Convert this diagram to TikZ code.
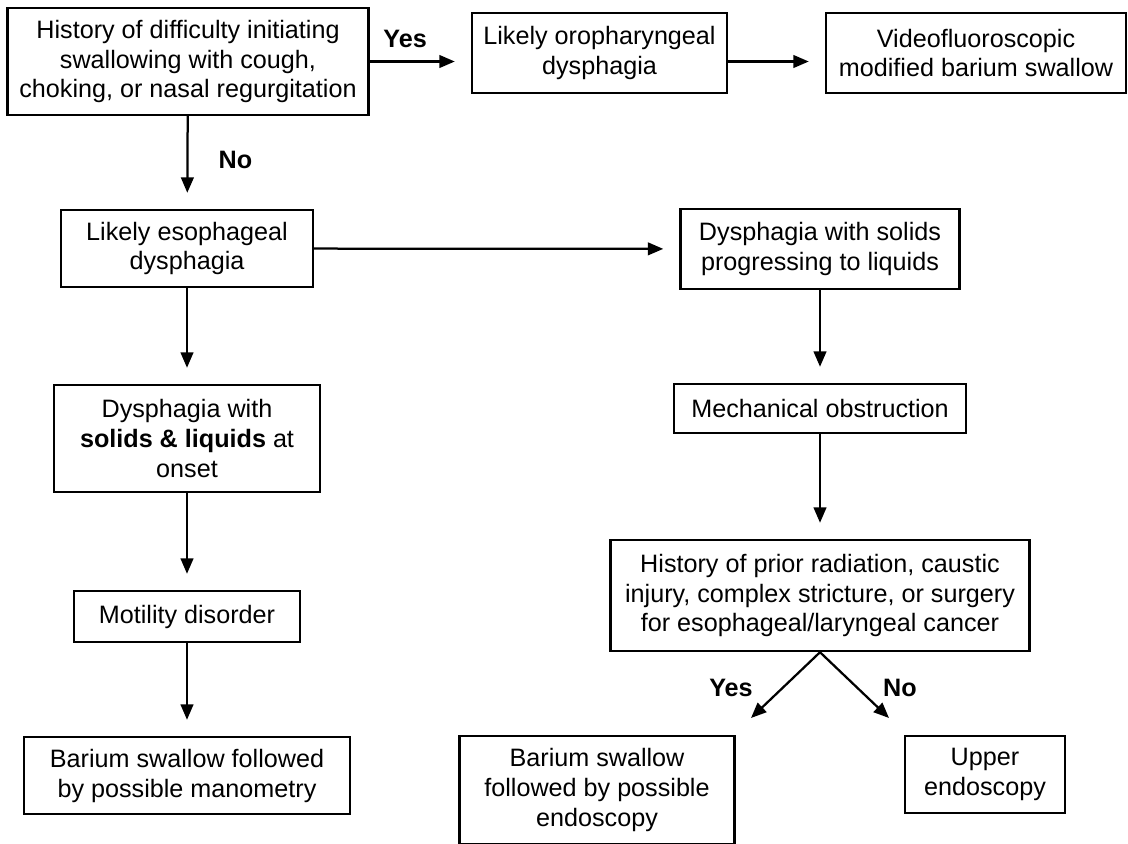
\documentclass[tikz,border=0pt]{standalone}
\usepackage{fontspec}
\setmainfont{Liberation Sans}
\usetikzlibrary{shapes,arrows.meta}

\begin{document}
\begin{tikzpicture}[x=0.025cm, y=-0.025cm]
		\tikzstyle {flowbox} = [draw, line width=1.7pt, align=center, inner sep=0pt, font=\fontsize{17.9}{21.3}\selectfont]
		\tikzstyle {flow} = [-{Triangle[length=11pt,width=9pt]}, line width=1.6pt, shorten >=0.4cm]
		\tikzstyle {answer} = [font=\fontsize{17.9}{21.3}\selectfont\bfseries]

		\useasboundingbox (0,0) rectangle (1128,843);
		\clip (0,0) rectangle (1128,843);

		% top row
		\node[flowbox, minimum width=9.025cm, minimum height=2.675cm] (hist) at (188,61.5) {History of difficulty initiating\\swallowing with cough,\\choking, or nasal regurgitation};
		\node[flowbox, minimum width=6.375cm, minimum height=2cm] (oro) at (599.5,53) {Likely oropharyngeal\\dysphagia};
		\node[flowbox, minimum width=7.5cm, minimum height=2cm] (vfss) at (976,53) {Videofluoroscopic\\modified barium swallow};

		% left column
		\node[flowbox, minimum width=6.3cm, minimum height=1.925cm] (eso) at (187,248.5) {Likely esophageal\\dysphagia};
		\node[flowbox, minimum width=6.65cm, minimum height=2.675cm] (both) at (187,438.5) {Dysphagia with\\\textbf{solids \& liquids} at\\onset};
		\node[flowbox, minimum width=5.65cm, minimum height=1.275cm] (motil) at (187,616.5) {Motility disorder};
		\node[flowbox, minimum width=8.15cm, minimum height=1.925cm] (bamano) at (187,775.5) {Barium swallow followed\\by possible manometry};

		% right column
		\node[flowbox, minimum width=6.975cm, minimum height=2cm] (solids) at (820,249) {Dysphagia with solids\\progressing to liquids};
		\node[flowbox, minimum width=7.3cm, minimum height=1.225cm] (mech) at (820,408.5) {Mechanical obstruction};
		\node[flowbox, minimum width=10.475cm, minimum height=2.775cm] (prior) at (820,595.5) {History of prior radiation, caustic\\injury, complex stricture, or surgery\\for esophageal/laryngeal cancer};
		\node[flowbox, minimum width=6.875cm, minimum height=2.7cm] (baendo) at (597,790) {Barium swallow\\followed by possible\\endoscopy};
		\node[flowbox, minimum width=4cm, minimum height=1.925cm] (egd) at (985,774.5) {Upper\\endoscopy};

		% free ends of the split below the last question
		\coordinate (yesend) at (751,718);
		\coordinate (noend) at (889,718);

		\draw[flow] (hist.east) -- (hist.east -| oro.west) node[answer, pos=0.35, above=6pt] {Yes};
		\draw[flow] (oro.east |- hist.east) -- (vfss.west |- hist.east);
		\draw[flow] (hist) -- (eso) node[answer, pos=0.47, right=18pt] {No};
		\draw[flow] (eso) -- (solids);
		\draw[flow] (eso) -- (both);
		\draw[flow] (both) -- (motil);
		\draw[flow] (motil) -- (bamano);
		\draw[flow] (solids) -- (mech);
		\draw[flow] (mech) -- (prior);
		\draw[flow, shorten >=0pt] (prior.south) -- (yesend);
		\draw[flow, shorten >=0pt] (prior.south) -- (noend);
		\node[answer] (yeslbl) at (731,688) {Yes};
		\node[answer] (nolbl) at (900,688) {No};
\end{tikzpicture}
\end{document}
